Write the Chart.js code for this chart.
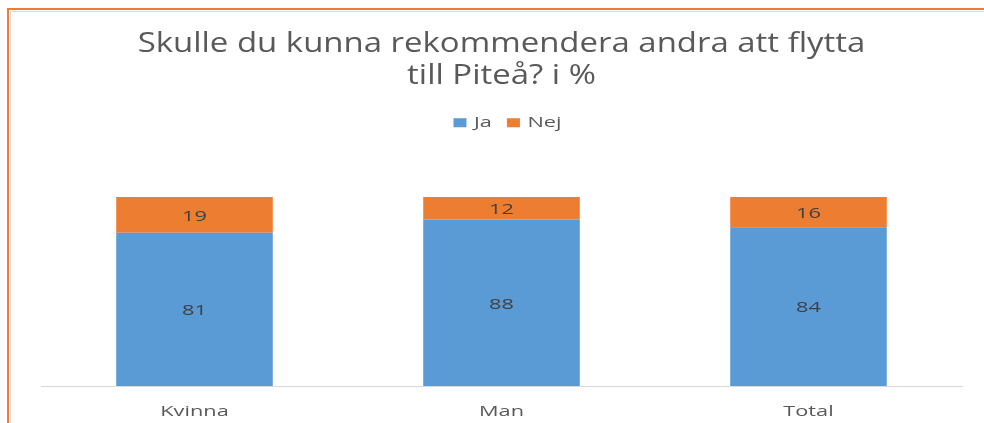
<!DOCTYPE html>
<html>
<head>
<meta charset="utf-8">
<script src="https://cdn.jsdelivr.net/npm/chart.js@4"></script>
<style>
  html, body { margin: 0; padding: 0; background: #fff; }
  #wrap { position: relative; width: 984px; height: 423px; overflow: hidden; }
  #chart { position: absolute; left: 0; top: 0; }
  .frame { position: absolute; left: 7px; top: 8px; width: 990px; height: 430px;
           border-left: 2px solid #ED7D31; border-top: 2px solid #ED7D31; }
  .inner { position: absolute; left: 10px; top: 11px; width: 990px; height: 430px;
           border-left: 1px solid #d9d9d9; border-top: 1px solid #d9d9d9; }
</style>
</head>
<body>
<div id="wrap">
  <canvas id="chart" width="984" height="423"></canvas>
  <div class="frame"></div>
  <div class="inner"></div>
</div>
<script>
var categories = ['Kvinna', 'Man', 'Total'];
var ja = [81, 88, 84];
var nej = [19, 12, 16];

var ctx = document.getElementById('chart').getContext('2d');

// the original picture has wide (stretched) letters, so stretch text sideways
var stretch = function(c){
    return c.font.indexOf('27px') >= 0 ? 1.22 : 1.45;
};
var origFill = ctx.fillText;
var origMeasure = ctx.measureText;
ctx.fillText = function(t, x, y, w){
    var s = stretch(this);
    this.save();
    this.translate(x, y);
    this.scale(s, 1);
    origFill.call(this, t, 0, 0);
    this.restore();
};
ctx.measureText = function(t){
    var m = origMeasure.call(this, t);
    return { width: m.width * stretch(this),
             actualBoundingBoxAscent: m.actualBoundingBoxAscent,
             actualBoundingBoxDescent: m.actualBoundingBoxDescent };
};

// legend sits a bit right of centre in the original
var legendShift = {
    id: 'legendShift',
    afterLayout: function(chart){
        chart.legend.left += 6;
        chart.legend.right += 6;
    }
};

// draws the number in the middle of each bar segment
var barLabels = {
    id: 'barLabels',
    afterDatasetsDraw: function(chart){
        var c = chart.ctx;
        c.save();
        c.font = '15px "Open Sans"';
        c.fillStyle = '#404040';
        c.textAlign = 'center';
        c.textBaseline = 'middle';
        chart.data.datasets.forEach(function(ds, i){
            var meta = chart.getDatasetMeta(i);
            meta.data.forEach(function(bar, j){
                c.fillText(ds.data[j], bar.x, (bar.y + bar.base) / 2 + 1.5);
            });
        });
        c.restore();
    }
};

var chart = new Chart(ctx, {
    type: 'bar',
    data: {
        labels: categories,
        datasets: [{
            label: 'Ja',
            data: ja,
            backgroundColor: '#5B9BD5'
        }, {
            label: 'Nej',
            data: nej,
            backgroundColor: '#ED7D31'
        }]
    },
    options: {
        responsive: false,
        animation: false,
        layout: { padding: { left: 41, right: 22, top: 0, bottom: 0 } },
        datasets: { bar: { categoryPercentage: 1, barPercentage: 0.51 } },
        plugins: {
            title: {
                display: true,
                text: ['Skulle du kunna rekommendera andra att flytta', 'till Piteå? i %'],
                color: '#595959',
                font: { family: '"Open Sans"', size: 27, weight: 'normal', lineHeight: 1.17 },
                padding: { top: 29, bottom: 8 }
            },
            legend: {
                labels: {
                    color: '#595959',
                    font: { family: '"Open Sans"', size: 15 },
                    boxWidth: 13,
                    boxHeight: 9,
                    padding: 15
                }
            },
            tooltip: { enabled: false }
        },
        scales: {
            x: {
                stacked: true,
                grid: { display: false },
                border: { color: '#d9d9d9', width: 1 },
                ticks: { color: '#595959', font: { family: '"Open Sans"', size: 15 }, padding: 9 },
                afterFit: function(s){ s.height = 37; }
            },
            y: {
                stacked: true,
                display: false,
                min: 0,
                max: 130
            }
        }
    },
    plugins: [legendShift, barLabels]
});
</script>
</body>
</html>
